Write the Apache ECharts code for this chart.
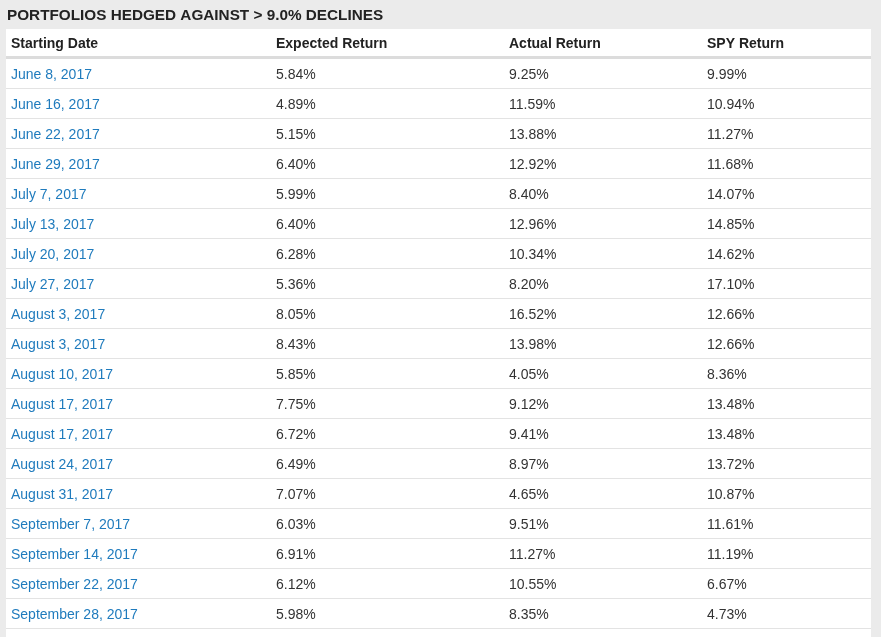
<!DOCTYPE html>
<html><head><meta charset="utf-8">
<script src="https://cdn.jsdelivr.net/npm/echarts@6/dist/echarts.min.js"></script>
<style>html,body{margin:0;padding:0;background:#ebebeb}#c{width:881px;height:637px}</style>
</head><body><div id="c"></div>
<script>
const title = 'PORTFOLIOS HEDGED AGAINST > 9.0% DECLINES';
const headers = ['Starting Date','Expected Return','Actual Return','SPY Return'];
const dates = ['June 8, 2017','June 16, 2017','June 22, 2017','June 29, 2017','July 7, 2017','July 13, 2017','July 20, 2017','July 27, 2017','August 3, 2017','August 3, 2017','August 10, 2017','August 17, 2017','August 17, 2017','August 24, 2017','August 31, 2017','September 7, 2017','September 14, 2017','September 22, 2017','September 28, 2017'];
const expected = [5.84,4.89,5.15,6.40,5.99,6.40,6.28,5.36,8.05,8.43,5.85,7.75,6.72,6.49,7.07,6.03,6.91,6.12,5.98];
const actual = [9.25,11.59,13.88,12.92,8.40,12.96,10.34,8.20,16.52,13.98,4.05,9.12,9.41,8.97,4.65,9.51,11.27,10.55,8.35];
const spy = [9.99,10.94,11.27,11.68,14.07,14.85,14.62,17.10,12.66,12.66,8.36,13.48,13.48,13.72,10.87,11.61,11.19,6.67,4.73];
const colStart = [5,270,503,701];
const W = 865;
const rows = [headers].concat(dates.map((d,i)=>[d, expected[i].toFixed(2)+'%', actual[i].toFixed(2)+'%', spy[i].toFixed(2)+'%']));
const ch = echarts.init(document.getElementById('c'));
ch.setOption({
  backgroundColor:'#ebebeb', animation:false,
  title:{text:title,left:2,top:3,textStyle:{fontFamily:'Liberation Sans',fontSize:15.3,fontWeight:'bold',color:'#222'}},
  grid:{left:6,right:10,top:29,height:600},
  xAxis:{type:'value',min:0,max:W,show:false},
  yAxis:{type:'category',data:rows.map((r,i)=>i),inverse:true,show:false},
  graphic:[{type:'rect',left:6,top:629,shape:{width:865,height:8},style:{fill:'#fff'}}],
  series:[{type:'custom',data:rows.map((r,i)=>[i]),renderItem:function(params,api){
    const i=api.value(0), r=rows[i];
    const c=api.coord([0,i]), e=api.coord([W,i]);
    const h=api.size([0,1])[1];
    const top=c[1]-h/2;
    const kids=[{type:'rect',shape:{x:c[0],y:top,width:e[0]-c[0],height:h},style:{fill:'#fff'}}];
    kids.push({type:'rect',shape:{x:c[0],y:top+h-(i===0?3:1),width:e[0]-c[0],height:i===0?3:1},style:{fill:i===0?'#dcdcdc':'#e3e3e3'}});
    r.forEach((t,j)=>{
      const x=api.coord([colStart[j],i])[0];
      kids.push({type:'text',style:{text:t,x:x,y:c[1]+(i===0?0:1),textVerticalAlign:'middle',fontFamily:'Liberation Sans',fontSize:14,fontWeight:i===0?'bold':'normal',fill:i===0?'#222':(j===0?'#1f7bbd':'#333')}});
    });
    return {type:'group',children:kids};
  }}]
});
</script></body></html>
